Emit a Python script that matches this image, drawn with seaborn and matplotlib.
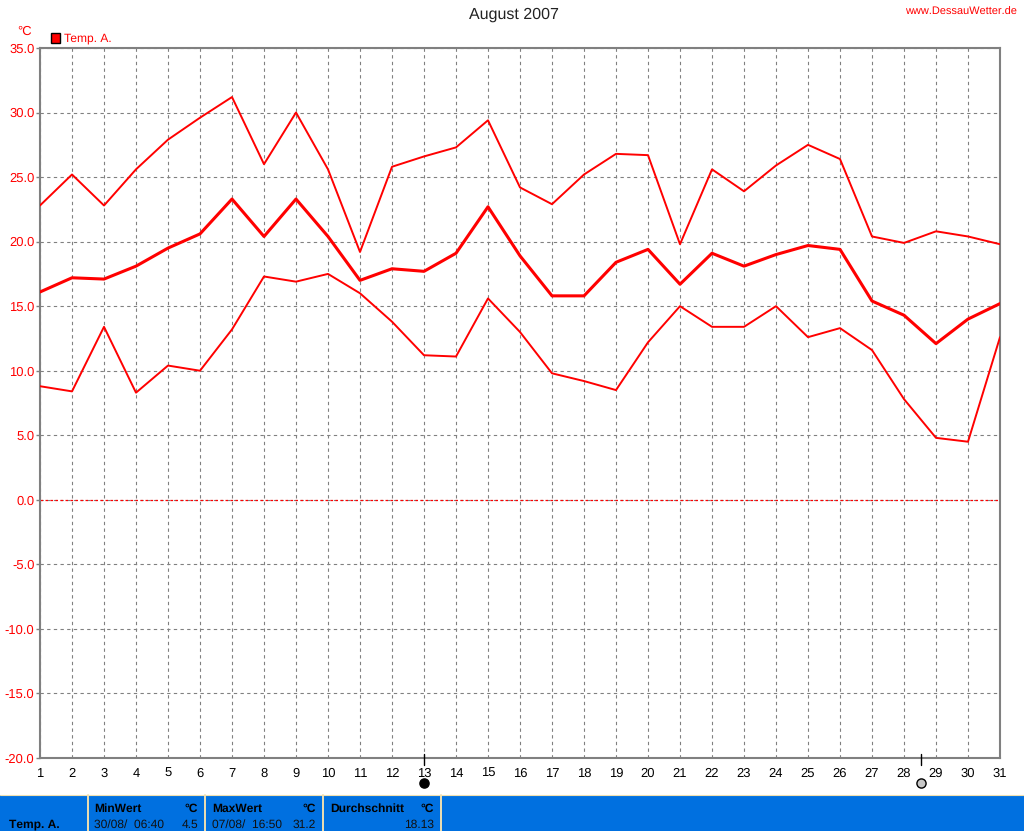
import matplotlib
matplotlib.use("Agg")
import matplotlib.pyplot as plt
from matplotlib.patches import Rectangle
from matplotlib.lines import Line2D
import seaborn as sns
import pandas as pd

days = list(range(1, 32))
temp_max = [22.8,25.2,22.8,25.6,27.9,29.6,31.2,26.0,30.0,25.6,19.2,25.8,26.6,27.3,29.4,24.2,22.9,25.2,26.8,26.7,19.8,25.6,23.9,25.9,27.5,26.4,20.4,19.9,20.8,20.4,19.8]
temp_mean = [16.1,17.2,17.1,18.1,19.5,20.6,23.3,20.4,23.3,20.4,17.0,17.9,17.7,19.1,22.7,18.9,15.8,15.8,18.4,19.4,16.7,19.1,18.1,19.0,19.7,19.4,15.4,14.3,12.1,14.0,15.2]
temp_min = [8.8,8.4,13.4,8.3,10.4,10.0,13.2,17.3,16.9,17.5,16.0,13.8,11.2,11.1,15.6,13.0,9.8,9.2,8.5,12.2,15.0,13.4,13.4,15.0,12.6,13.3,11.6,7.8,4.8,4.5,12.6]
y_ticks = [35,30,25,20,15,10,5,0,-5,-10,-15,-20]
new_moon_day = 13
full_moon_day = 28.53

W, H = 1024, 831
sns.set_theme(style="white")
plt.rcParams['font.family'] = ['Liberation Sans', 'DejaVu Sans']
plt.rcParams['font.size'] = 8.7
plt.rcParams['text.hinting'] = 'no_hinting'
plt.rcParams['text.hinting_factor'] = 1

fig = plt.figure(figsize=(W/100, H/100), dpi=100, facecolor='white')
def fx(p): return p / W
def fy(p): return 1 - p / H

ax = fig.add_axes([fx(40), fy(758), fx(1000) - fx(40), fy(48) - fy(758)])
df = pd.DataFrame({"day": days, "max": temp_max, "mean": temp_mean, "min": temp_min})
for col, lw in (("max", 1.4), ("mean", 2.2), ("min", 1.4)):
    sns.lineplot(data=df, x="day", y=col, ax=ax, color="#ff0000", linewidth=lw, zorder=3, errorbar=None)

ax.set_xlim(1, 31)
ax.set_ylim(-20, 35)
ax.set_xlabel("")
ax.set_ylabel("")
ax.set_xticks(days)
ax.set_yticks(y_ticks)
ax.set_yticklabels([f"{v:.1f}" for v in y_ticks], color="#ff0000", fontsize=9)
ax.set_xticklabels([str(d) for d in days], color="black", fontsize=9, va='baseline')
ax.tick_params(axis='x', length=0, pad=13.45)
ax.tick_params(axis='y', length=3, width=1, color="#808080", pad=1, left=True)
ax.grid(True, color="#808080", linestyle=(0, (3, 3)), linewidth=0.8, zorder=1)
ax.axhline(0, color="#ff0000", linestyle=(0, (2, 2)), linewidth=0.9, zorder=2)
for s in ax.spines.values():
    s.set_color("#808080")
    s.set_linewidth(1.5)

# moon phase markers
trans = ax.get_xaxis_transform()
for d, face in ((new_moon_day, "black"), (full_moon_day, "#c8c8c8")):
    ax.add_line(Line2D([d, d], [0.0056, -0.0098], transform=trans, color="black", lw=1, clip_on=False, zorder=5))
    ax.add_line(Line2D([d], [-0.0352], transform=trans, marker="o", ms=6.6, mfc=face, mec="black", mew=1, clip_on=False, zorder=5))

# headers
fig.text(fx(514), fy(15), "August 2007", ha='center', va='center', fontsize=11.5, color="#222222")
fig.text(fx(1017), fy(12), "www.DessauWetter.de", ha='right', va='center', fontsize=8.2, color="#ff0000")
fig.text(fx(25), fy(32), "°C", ha='center', va='center', fontsize=9, color="#ff0000")
fig.add_artist(Rectangle((fx(50.5), fy(42.5)), 9/W, 9/H, transform=fig.transFigure, fc="#ff0000", ec="black", lw=1))
fig.text(fx(64), fy(38), "Temp. A.", ha='left', va='center', fontsize=8.7, color="#ff0000")

# bottom info panel
fig.add_artist(Rectangle((0, 0), 1, 36/H, transform=fig.transFigure, fc="#0070e0", ec="none"))
fig.add_artist(Line2D([0, 1], [fy(795)]*2, transform=fig.transFigure, color="#f0e0b0", lw=0.8))
for px in (88, 205, 323, 441):
    fig.add_artist(Line2D([fx(px)]*2, [fy(795), 0], transform=fig.transFigure, color="#f0e0b0", lw=1.4))
panel_titles = [("MinWert", 94), ("MaxWert", 212), ("Durchschnitt", 330)]
panel_units = [198, 316, 434]
panel_stamps = [("30/08/  06:40", 94), ("07/08/  16:50", 212)]
panel_values = [("4.5", 198), ("31.2", 316), ("18.13", 434)]
fig.text(fx(9), fy(824.5), "Temp. A.", fontsize=8.7, fontweight='bold', color="black", va='center')
for t, px in panel_titles:
    fig.text(fx(px), fy(808.5), t, fontsize=8.7, fontweight='bold', color="black", va='center')
for px in panel_units:
    fig.text(fx(px), fy(808.5), "°C", fontsize=8.7, fontweight='bold', color="black", va='center', ha='right')
for t, px in panel_stamps:
    fig.text(fx(px), fy(824.5), t, fontsize=8.7, color="#101010", va='center')
for t, px in panel_values:
    fig.text(fx(px), fy(824.5), t, fontsize=8.7, color="#101010", va='center', ha='right')

fig.savefig("out.png", dpi=100, facecolor='white')
